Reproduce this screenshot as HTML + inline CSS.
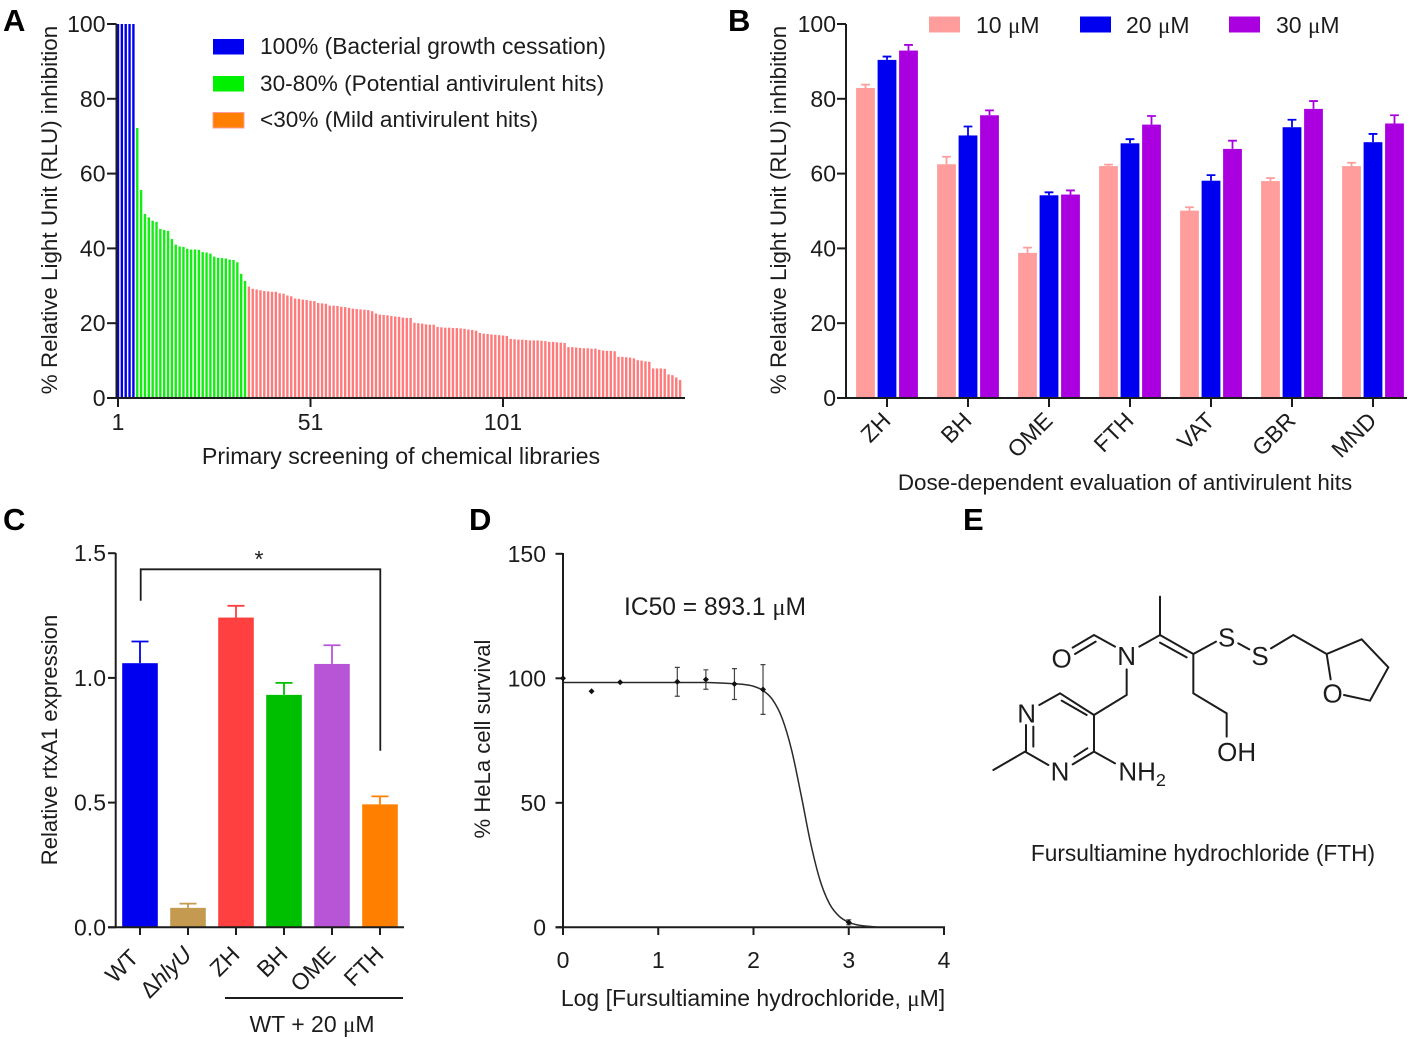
<!DOCTYPE html>
<html lang="en">
<head>
<meta charset="utf-8">
<title>Antivirulent screening figure</title>
<style>
html,body{margin:0;padding:0;background:#fff;width:1417px;height:1039px;overflow:hidden}
svg{display:block}
text{font-family:"Liberation Sans",sans-serif;fill:#1c1c1c;font-size:23px}
.axis{stroke:#1c1c1c;stroke-width:2;fill:none}
.mol{stroke:#1c1c1c;stroke-width:1.7;fill:none;stroke-linecap:round}
.panel{font-weight:bold;font-size:31px;fill:#000}
.mu{font-family:"Liberation Serif",serif}
</style>
</head>
<body>
<svg id="fig" xmlns="http://www.w3.org/2000/svg" width="1417" height="1039" viewBox="0 0 1417 1039">
  <rect width="1417" height="1039" fill="#fff"/>

  <g id="panelA">
    <text class="panel" x="3" y="31">A</text>
    <text transform="translate(57,210) rotate(-90)" text-anchor="middle" style="font-size:22.4px">% Relative Light Unit (RLU) inhibition</text>
    <text x="401" y="464" text-anchor="middle" style="font-size:23.2px">Primary screening of chemical libraries</text>
    <rect x="213" y="39" width="31" height="15.5" fill="#0000f0"/>
    <text x="260" y="54" style="font-size:22.8px">100% (Bacterial growth cessation)</text>
    <rect x="213" y="76" width="31" height="15.5" fill="#00f000"/>
    <text x="260" y="91" style="font-size:22.6px">30-80% (Potential antivirulent hits)</text>
    <rect x="213" y="112.5" width="31" height="15.5" fill="#ff8000" stroke="#ff9c9c" stroke-width="1"/>
    <text x="260" y="127" style="font-size:22.6px">&lt;30% (Mild antivirulent hits)</text>
  </g>

  <g id="panelB">
    <text class="panel" x="728" y="31">B</text>
    <text transform="translate(786,210) rotate(-90)" text-anchor="middle" style="font-size:22.4px">% Relative Light Unit (RLU) inhibition</text>
    <text x="1125" y="490" text-anchor="middle" style="font-size:22.4px">Dose-dependent evaluation of antivirulent hits</text>
    <rect x="929" y="16.500" width="31" height="16" fill="#ff9c9c"/>
    <text x="976" y="33">10 <tspan class="mu">μ</tspan>M</text>
    <rect x="1080" y="16.500" width="31" height="16" fill="#0000f0"/>
    <text x="1126" y="33">20 <tspan class="mu">μ</tspan>M</text>
    <rect x="1229" y="16.500" width="31" height="16" fill="#aa00e0"/>
    <text x="1276" y="33">30 <tspan class="mu">μ</tspan>M</text>
  </g>

  <g id="panelC">
    <text class="panel" x="3" y="530">C</text>
    <text transform="translate(57,740) rotate(-90)" text-anchor="middle" style="font-size:22.1px">Relative rtxA1 expression</text>
    <path class="axis" style="stroke-width:1.8" d="M140.700 600.700V569.300H380.300V750.700"/>
    <text x="259" y="567" text-anchor="middle">*</text>
    <line class="axis" x1="225" x2="403" y1="998" y2="998"/>
    <text x="312" y="1032" text-anchor="middle">WT + 20 <tspan class="mu">μ</tspan>M</text>
  </g>

  <g id="panelD">
    <text class="panel" x="469" y="530">D</text>
    <text transform="translate(490,739) rotate(-90)" text-anchor="middle" style="font-size:22.1px">% HeLa cell survival</text>
    <text x="753" y="1006" text-anchor="middle">Log [Fursultiamine hydrochloride, <tspan class="mu">μ</tspan>M]</text>
    <text x="624" y="615" style="font-size:24.6px">IC50 = 893.1 <tspan class="mu">μ</tspan>M</text>
  </g>

  <g id="panelE">
    <text class="panel" x="963" y="530">E</text>
    <g transform="translate(980,580) scale(0.33333)">
      <path class="mol" style="stroke-width:6" d="M40 570L135 515M138 435V515M160 440V500M135 515L205 555M278 553L342 515M283 530L322 505M342 515V405M342 405L240 340M320 405L245 362M240 340L178 375M342 405L440 345V268M342 515L405 550M405 200L342 165L278 203M347 185L285 222M478 200L540 165M540 165V50M540 165L640 222M540 188L620 232M640 222L708 185M775 190L808 208M873 205L940 165L1040 222L1145 178L1225 262L1170 362L1092 345M1040 222L1052 298M640 222V340L740 400V470"/>
      <g text-anchor="middle">
        <text x="140" y="428" style="font-size:78px">N</text>
        <text x="240" y="601" style="font-size:78px">N</text>
        <text x="440" y="255" style="font-size:78px">N</text>
        <text x="245" y="262" style="font-size:78px">O</text>
        <text x="740" y="200" style="font-size:78px">S</text>
        <text x="840" y="255" style="font-size:78px">S</text>
        <text x="1058" y="368" style="font-size:78px">O</text>
        <text x="770" y="543" style="font-size:78px">OH</text>
      </g>
      <text x="415" y="601" style="font-size:78px">NH<tspan dy="17" style="font-size:54px">2</tspan></text>
    </g>
    <text x="1203" y="861" text-anchor="middle" style="font-size:22.7px">Fursultiamine hydrochloride (FTH)</text>
  </g>
</svg>

<script>
// Panel A: primary screening values
const screenHits = [100,100,100,100,100];
const screenPotential = [72.2,55.6,49.2,48.3,47.4,47.1,45.2,44.9,44.7,42.5,41,40.5,40.4,39.9,39.7,39.7,39.6,39,38.9,38.6,37.8,37.5,37.4,37.3,37,36.9,36.3,33.2,31.3];
const screenMild = [29.8,29.2,29,28.8,28.6,28.5,28.4,28.4,28,27.9,27.4,27.2,26.6,26.5,26.3,26.2,26,25.9,25.4,25.3,25.2,24.7,24.7,24.6,24.4,24.3,24.1,23.9,23.8,23.7,23.6,23.5,23.2,22.6,
22.3,22.2,22.1,21.9,21.8,21.7,21.5,21.4,21.4,
20.1,20,19.9,19.7,19.6,19.6,
19,18.9,18.8,18.8,18.7,18.7,18.6,18.5,18.3,18.2,18,
17.4,17.2,17.1,17,16.9,16.8,16.7,16.6,
15.8,15.7,15.6,15.6,15.5,15.4,15.4,15.4,15.3,15.2,15,15,14.9,14.8,14.7,
13.6,13.6,13.5,13.4,13.3,13.3,13.2,13.2,
12.9,12.7,12.6,12.6,12.5,
11,11,10.9,10.8,10.6,
10.1,10,9.8,9.7,
7.9,7.9,7.9,7.8,
6.3,6.1,5.5,4.8];
const screenTicks = [1,51,101];
const percentTicks = [0,20,40,60,80,100];

// Panel B: dose response
const hitNames = ['ZH','BH','OME','FTH','VAT','GBR','MND'];
const dose10 = [82.9,62.5,38.8,62,50.1,58,62];
const dose10Top = [83.8,64.5,40.2,62.4,51,58.8,62.9];
const dose20 = [90.4,70.2,54.2,68.1,58.1,72.4,68.4];
const dose20Top = [91.3,72.6,55,69.2,59.6,74.4,70.6];
const dose30 = [92.9,75.6,54.4,73.1,66.6,77.3,73.4];
const dose30Top = [94.4,76.9,55.5,75.4,68.8,79.4,75.6];

// Panel C: rtxA1 expression
const strainNames = ['WT','hlyU','ZH','BH','OME','FTH'];
const expression = [1.059,0.078,1.242,0.932,1.056,0.493];
const expressionTop = [1.146,0.095,1.289,0.98,1.131,0.525];
const expressionTicks = ['0.0','0.5','1.0','1.5'];

// Panel D: survival
const logDose = [0,0.3,0.6,1.2,1.5,1.8,2.1,3];
const survival = [100,94.8,98.4,98.6,99.5,97.7,95.5,2];
const survivalErr = [0,0,0,5.8,3.9,6.2,10,1];
const curveLog = [0,1,1.5,1.8,1.9,2,2.1,2.2,2.3,2.4,2.5,2.6,2.7,2.8,2.9,3,3.1,3.2,3.3];
const curveSurvival = [98.3,98.3,98.3,97.8,97.5,96.8,95.1,91.4,84,71.2,53.1,33.8,18.7,9.3,4.4,2,0.9,0.4,0.1];
const survivalYTicks = [0,50,100,150];
const survivalXTicks = [0,1,2,3,4];

const NS = 'http://www.w3.org/2000/svg';
function make(parent, tag, attrs, txt) {
  const el = document.createElementNS(NS, tag);
  for (const k in attrs) el.setAttribute(k, attrs[k]);
  if (txt !== undefined) el.textContent = txt;
  parent.appendChild(el);
  return el;
}
const gA = document.getElementById('panelA');
const gB = document.getElementById('panelB');
const gC = document.getElementById('panelC');
const gD = document.getElementById('panelD');

// ---------- axis functions
const xA = i => 118 + (i - 1) * 3.85;
const yAB = v => 398 - v * 3.74;
const xB = (g, s) => 887 + g * 81 + (s - 1) * 21.5;
const xC = i => 140 + i * 48;
const yC = v => 927.3 - v * 249.4;
const xD = v => 563 + v * 95.25;
const yD = v => 927.3 - v * 2.49;

function axisLine(parent, x1, y1, x2, y2, name) {
  const el = make(parent, 'line', {x1, y1, x2, y2, class: 'axis'});
  
  
  return el;
}
function tickLabel(parent, x, y, anchor, value, name) {
  const el = make(parent, 'text', {x, y, 'text-anchor': anchor}, value);
  
  
  return el;
}

// ---------- Panel A
function barA(i, v, fill, name) {
  const el = make(gA, 'rect', {x: xA(i) - 1.2, y: yAB(v), width: 2.4, height: 398 - yAB(v), fill});
  
  
}
let idx = 1;
screenHits.forEach(v => { barA(idx++, v, '#0000f0', 'bar-growth-cessation'); });
screenPotential.forEach(v => { barA(idx++, v, '#12ee12', 'bar-potential-hit'); });
screenMild.forEach(v => { barA(idx++, v, '#ff7a7a', 'bar-mild-hit'); });
axisLine(gA, 116.500, yAB(100), 116.500, 399, 'y-axis-a');
axisLine(gA, 116, 398, 685, 398, 'x-axis-a');
percentTicks.forEach(t => {
  axisLine(gA, 107, yAB(t), 116.500, yAB(t), 'y-tick-a');
  tickLabel(gA, 105.500, yAB(t) + 8, 'end', t, 'y-tick-label-a');
});
screenTicks.forEach(t => {
  axisLine(gA, xA(t), 398, xA(t), 407, 'x-tick-a');
  tickLabel(gA, xA(t), 430, 'middle', t, 'x-tick-label-a');
});

// ---------- Panel B
const doseSeries = [
  {vals: dose10, tops: dose10Top, color: '#ff9c9c', name: 'bar-10um'},
  {vals: dose20, tops: dose20Top, color: '#0000f0', name: 'bar-20um'},
  {vals: dose30, tops: dose30Top, color: '#aa00e0', name: 'bar-30um'}
];
doseSeries.forEach((s, si) => {
  s.vals.forEach((v, g) => {
    const cx = xB(g, si);
    const bar = make(gB, 'rect', {x: cx - 9.4, y: yAB(v), width: 18.8, height: 398 - yAB(v), fill: s.color});
    
    
    const err = make(gB, 'path', {d: `M${cx} ${yAB(v)}V${yAB(s.tops[g])}M${cx - 4.4} ${yAB(s.tops[g])}H${cx + 4.4}`, stroke: s.color, 'stroke-width': 1.8, fill: 'none'});
    
    
  });
});
axisLine(gB, 846, yAB(100), 846, 399, 'y-axis-b');
axisLine(gB, 845, 398, 1407, 398, 'x-axis-b');
percentTicks.forEach(t => {
  axisLine(gB, 837, yAB(t), 846, yAB(t), 'y-tick-b');
  tickLabel(gB, 836, yAB(t) + 8, 'end', t, 'y-tick-label-b');
});
hitNames.forEach((n, g) => {
  const cx = xB(g, 1);
  axisLine(gB, cx, 398, cx, 407, 'x-tick-b');
  const lab = make(gB, 'text', {'text-anchor': 'end', transform: `translate(${cx + 5},${422}) rotate(-45)`}, n);
  
  
});

// ---------- Panel C
const strainColors = ['#0000f0', '#c49a50', '#ff4040', '#00bf00', '#b855d6', '#ff8000'];
expression.forEach((v, i) => {
  const cx = xC(i);
  const c = strainColors[i];
  const bar = make(gC, 'rect', {x: cx - 17.8, y: yC(v), width: 35.6, height: 927.3 - yC(v), fill: c});
  
  
  const t = yC(expressionTop[i]);
  const err = make(gC, 'path', {d: `M${cx} ${yC(v)}V${t}M${cx - 8.5} ${t}H${cx + 8.500}`, stroke: c, 'stroke-width': 1.8, fill: 'none'});
  
  
  axisLine(gC, cx, 927, cx, 935, 'x-tick-c');
  const isWT = strainNames[i] === 'WT';
  const lab = make(gC, 'text', {'text-anchor': 'end', transform: `translate(${cx + (isWT ? 0 : 5)},${isWT ? 959 : 956}) rotate(-45)`});
  
  
  if (strainNames[i] === 'hlyU') {
    make(lab, 'tspan', {}, 'Δ');
    make(lab, 'tspan', {'font-style': 'italic'}, 'hlyU');
  } else {
    lab.textContent = strainNames[i];
  }
});
axisLine(gC, 115.700, 553, 115.700, 928, 'y-axis-c');
axisLine(gC, 108, 927.300, 404, 927.300, 'x-axis-c');
expressionTicks.forEach(t => {
  axisLine(gC, 108, yC(+t), 115.700, yC(+t), 'y-tick-c');
  tickLabel(gC, 106, yC(+t) + 8, 'end', t, 'y-tick-label-c');
});

// ---------- Panel D
axisLine(gD, 563, 553, 563, 935, 'y-axis-d');
axisLine(gD, 555.500, 927.300, 945, 927.300, 'x-axis-d');
survivalYTicks.forEach(t => {
  axisLine(gD, 555.500, yD(t), 563, yD(t), 'y-tick-d');
  tickLabel(gD, 546, yD(t) + 8, 'end', t, 'y-tick-label-d');
});
survivalXTicks.forEach(t => {
  axisLine(gD, xD(t), 927, xD(t), 935, 'x-tick-d');
  tickLabel(gD, xD(t), 968, 'middle', t, 'x-tick-label-d');
});
// smooth fitted curve through the read-off points
const pts = curveLog.map((l, i) => [xD(l), yD(curveSurvival[i])]);
let d = `M${pts[0][0]} ${pts[0][1]}`;
for (let i = 0; i < pts.length - 1; i++) {
  const p0 = pts[Math.max(i - 1, 0)], p1 = pts[i], p2 = pts[i + 1], p3 = pts[Math.min(i + 2, pts.length - 1)];
  const h = 6;
  d += `C${p1[0] + (p2[0] - p0[0]) / h} ${p1[1] + (p2[1] - p0[1]) / h} ${p2[0] - (p3[0] - p1[0]) / h} ${p2[1] - (p3[1] - p1[1]) / h} ${p2[0]} ${p2[1]}`;
}
const curve = make(gD, 'path', {d, fill: 'none', stroke: '#2a2a2a', 'stroke-width': 1.500});


logDose.forEach((l, i) => {
  const cx = xD(l), cy = yD(survival[i]), e = survivalErr[i];
  if (e > 0) {
    const eb = make(gD, 'path', {d: `M${cx} ${yD(survival[i] + e)}V${yD(survival[i] - e)}M${cx - 2.5} ${yD(survival[i] + e)}h5M${cx - 2.5} ${yD(survival[i] - e)}h5`, stroke: '#444', 'stroke-width': 1.200, fill: 'none'});
    
    
  }
  const pt = make(gD, 'path', {d: `M${cx - 3} ${cy}L${cx} ${cy - 3}L${cx + 3} ${cy}L${cx} ${cy + 3}Z`, fill: '#111'});
  
  
});
</script>
</body>
</html>
